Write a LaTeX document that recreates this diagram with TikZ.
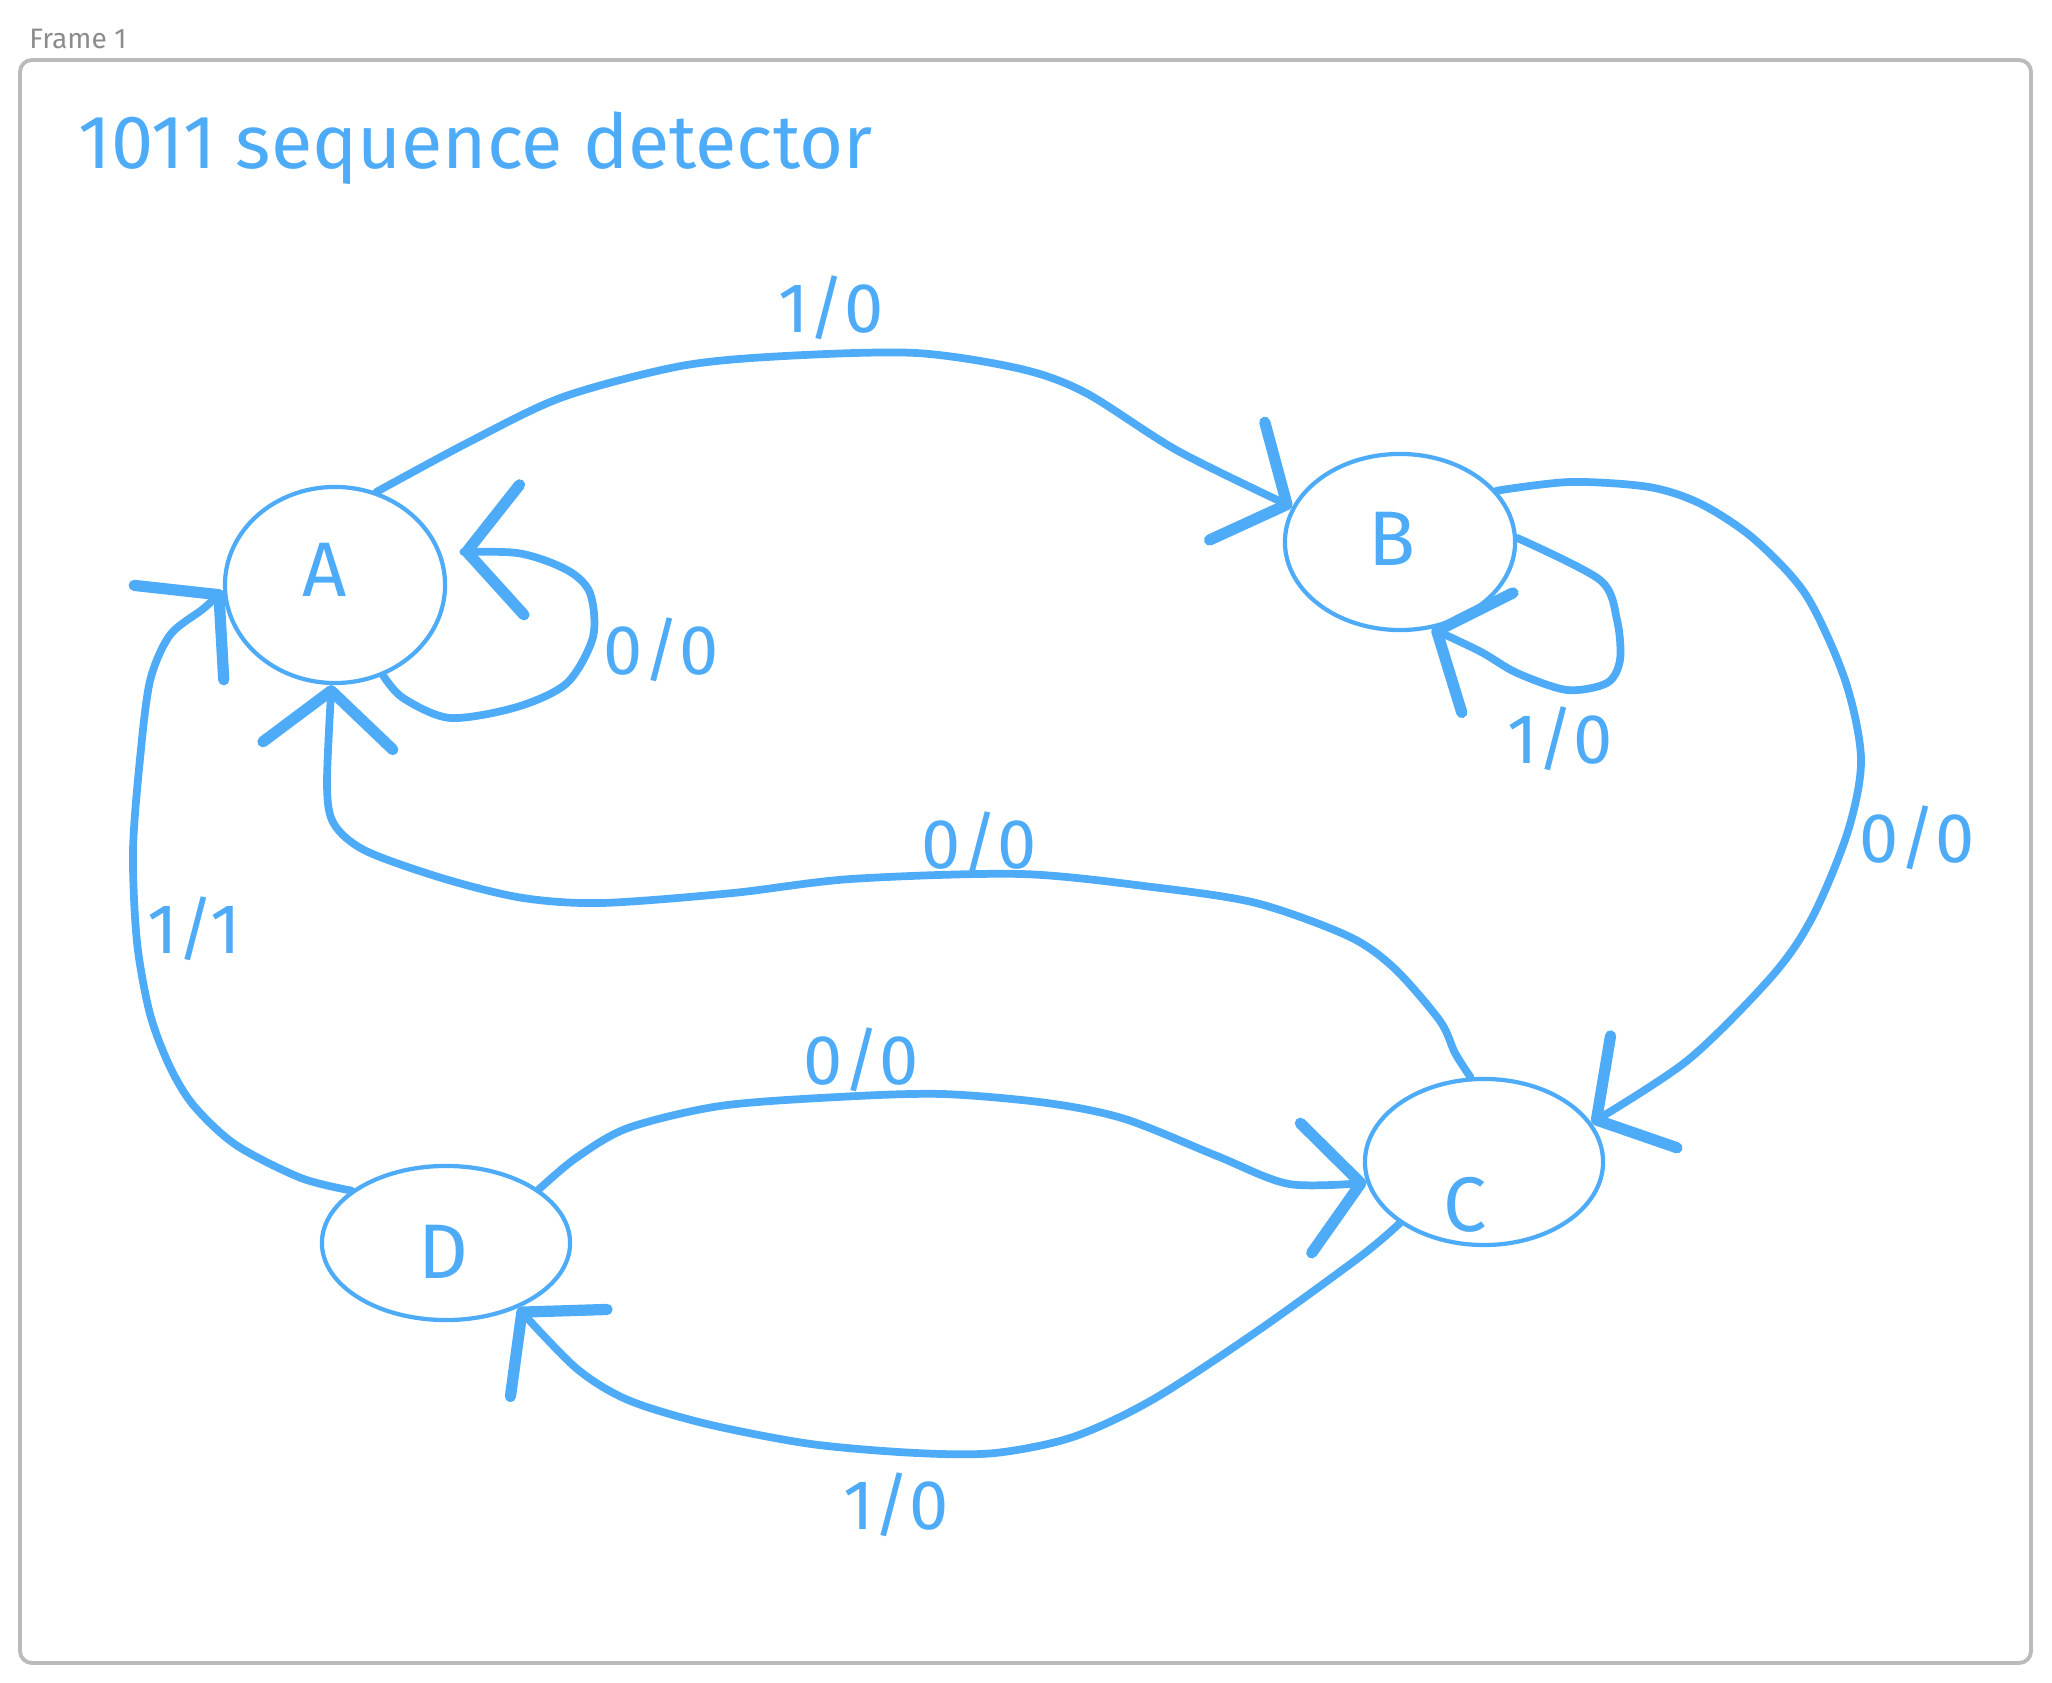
\documentclass[tikz,border=0pt]{standalone}
\usepackage{fontspec}
\setmainfont{Fira Sans}
\usepackage{tikz}
\usetikzlibrary{shapes.geometric, arrows.meta}
\definecolor{sketchblue}{RGB}{77,171,247}
\definecolor{framegray}{RGB}{187,187,187}
\tikzstyle{state} = [draw=sketchblue, line width=1.2pt, ellipse, inner sep=0pt]
\tikzstyle{letter} = [text=sketchblue, font=\fontsize{22}{26}\selectfont]
\tikzstyle{lbl} = [text=sketchblue, font=\fontsize{20}{24}\selectfont]
\tikzstyle{edge} = [sketchblue, line width=2.2pt, line cap=round, line join=round, -{Straight Barb[length=0.55cm, width=1.3cm, line width=3.2pt, round]}]

\begin{document}
\begin{tikzpicture}[x=0.01cm, y=-0.01cm]
  \useasboundingbox (0,0) rectangle (2052,1683);

  % frame and title
  \draw[framegray, line width=1.1pt, rounded corners=0.12cm] (20,60) rectangle (2031,1663);
  \node[anchor=west, text=framegray!75!black, font=\fontsize{8}{10}\selectfont] (frame) at (17,39) {Frame 1};
  \node[anchor=west, text=sketchblue, font=\fontsize{21.5}{26}\selectfont] (title) at (66,148) {1011 sequence detector};

  % states
  \node[state, minimum width=2.2cm, minimum height=1.96cm] (A) at (335,585) {};
  \node[state, minimum width=2.3cm, minimum height=1.76cm] (B) at (1400,542) {};
  \node[state, minimum width=2.38cm, minimum height=1.66cm] (C) at (1484,1162) {};
  \node[state, minimum width=2.48cm, minimum height=1.54cm] (D) at (446,1243) {};
  \node[letter] (Aname) at (325,570) {A};
  \node[letter] (Bname) at (1392,539) {B};
  \node[letter] (Cname) at (1465,1205) {C};
  \node[letter] (Dname) at (443,1252) {D};

  % transitions A -> B, A -> A, B -> B, B -> C
  \draw[edge] plot[smooth] coordinates {(A.66) (471,441) (563,397) (681,366) (785,356) (916,353) (1021,369) (1086,393) (1178,451) (B.162)};
  \draw[edge, shorten >=0.2cm] plot[smooth] coordinates {(A.-62) (403,698) (450,718) (517,707) (567,683) (593,637) (590,593) (567,570) (517,553) (A.17)};
  \draw[edge] plot[smooth] coordinates {(B.2) (1600,580) (1617,620) (1620,660) (1607,683) (1567,690) (1517,673) (1483,653) (1450,637) (B.-70)};
  \draw[edge] plot[smooth] coordinates {(B.28) (1570,482) (1649,487) (1701,504) (1754,539) (1806,595) (1845,680) (1861,759) (1848,831) (1813,916) (1773,975) (1688,1060) (C.20)};

  % transitions C -> A, D -> C, C -> D, D -> A
  \draw[edge] plot[smooth] coordinates {(C.99) (1455,1053) (1440,1021) (1394,968) (1348,936) (1256,903) (1152,887) (1021,874) (851,879) (733,893) (602,903) (523,898) (445,879) (366,851) (334,824) (327,785) (A.-92)};
  \draw[edge] plot[smooth] coordinates {(D.30) (576,1158) (628,1128) (720,1106) (838,1097) (942,1094) (1047,1103) (1125,1119) (1217,1156) (1289,1184) (C.190)};
  \draw[edge] plot[smooth] coordinates {(C.216) (1361,1256) (1256,1332) (1152,1400) (1073,1437) (995,1453) (916,1453) (811,1444) (707,1424) (628,1400) (576,1368) (D.-42)};
  \draw[edge] plot[smooth] coordinates {(D.151) (301,1178) (236,1145) (194,1106) (170,1067) (150,1014) (137,942) (133,851) (140,759) (150,681) (170,635) (203,609) (A.183)};

  % input/output labels
  \node[lbl] (lab1) at (831,308) {1/0};
  \node[lbl] (lab2) at (661,650) {0/0};
  \node[lbl] (lab3) at (1560,739) {1/0};
  \node[lbl] (lab4) at (1917,838) {0/0};
  \node[lbl] (lab5) at (979,844) {0/0};
  \node[lbl] (lab6) at (861,1060) {0/0};
  \node[lbl] (lab7) at (896,1505) {1/0};
  \node[lbl] (lab8) at (194,929) {1/1};
\end{tikzpicture}
\end{document}
